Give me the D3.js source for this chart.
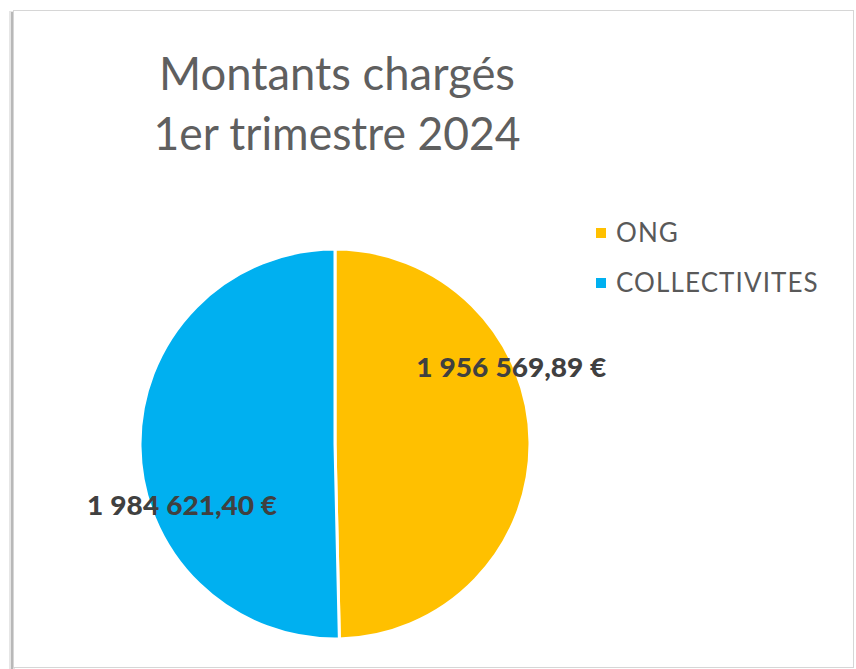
<!DOCTYPE html>
<html><head><meta charset="utf-8">
<script src="https://cdn.jsdelivr.net/npm/d3@7"></script>
<style>html,body{margin:0;padding:0;background:#fff;}</style>
</head><body>
<svg id="c" width="856" height="669"></svg>
<script>
const categories = ["ONG", "COLLECTIVITES"];
const values = [1956569.89, 1984621.40];
const colors = ["#FFC000", "#00B0F0"];
const titleLines = ["Montants chargés", "1er trimestre 2024"];
const labelTexts = ["1\u202F956\u202F569,89 €", "1\u202F984\u202F621,40 €"];
const labelFrac = [0.373, 0.382];
const labelRad = [192, 165];

const svg = d3.select("#c");
// frame with shadow
svg.append("rect").attr("x", 9).attr("y", 11).attr("width", 6).attr("height", 660).attr("fill", "#e6e6e6");
svg.append("rect").attr("x", 13.5).attr("y", 10.5).attr("width", 840).attr("height", 657)
  .attr("fill", "#fff").attr("stroke", "#d6d6d6").attr("stroke-width", 1);
svg.append("line").attr("x1", 12).attr("x2", 12).attr("y1", 12).attr("y2", 669).attr("stroke", "#b8b8b8").attr("stroke-width", 2);

// title
svg.append("g").selectAll("text").data(titleLines).join("text")
  .attr("x", 337).attr("y", (d, i) => 90 + i * 60)
  .attr("text-anchor", "middle")
  .attr("font-family", "Lato, sans-serif").attr("font-size", 47)
  .attr("fill", "#5f5f5f")
  .attr("textLength", (d, i) => i === 0 ? 356 : 367).attr("lengthAdjust", "spacingAndGlyphs")
  .text(d => d);

const cx = 335, cy = 444, r = 195;
const pie = d3.pie().sort(null).value(d => d)(values);
const arc = d3.arc().innerRadius(0).outerRadius(r);
const g = svg.append("g").attr("transform", `translate(${cx},${cy})`);
g.selectAll("path").data(pie).join("path")
  .attr("d", arc).attr("fill", (d, i) => colors[i])
  .attr("stroke", "#fff").attr("stroke-width", 3).attr("stroke-linejoin", "round");

g.selectAll("text.lbl").data(pie).join("text").attr("class", "lbl")
  .attr("transform", (d, i) => {
    const a = d.startAngle + labelFrac[i] * (d.endAngle - d.startAngle);
    return `translate(${Math.sin(a) * labelRad[i]},${-Math.cos(a) * labelRad[i]})`;
  })
  .attr("text-anchor", "middle").attr("dy", "0.35em")
  .attr("font-family", "Lato, sans-serif").attr("font-weight", "900").attr("font-size", 26)
  .attr("textLength", 190).attr("lengthAdjust", "spacingAndGlyphs")
  .attr("fill", "#404040")
  .text((d, i) => labelTexts[i]);

// legend
const lg = svg.append("g");
const items = lg.selectAll("g").data(categories).join("g")
  .attr("transform", (d, i) => `translate(596,${233 + i * 50})`);
items.append("rect").attr("x", 0).attr("y", -5).attr("width", 10).attr("height", 10)
  .attr("fill", (d, i) => colors[i]);
items.append("text").attr("x", 20).attr("y", 0).attr("dy", "0.36em")
  .attr("font-family", "Lato, sans-serif").attr("font-size", 26).attr("letter-spacing", 1.1)
  .attr("fill", "#595959")
  .text(d => d);
</script>
</body></html>
